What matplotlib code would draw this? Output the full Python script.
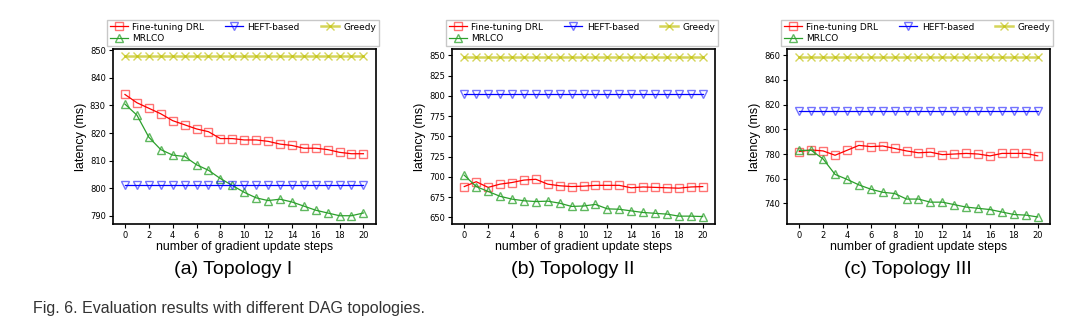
import matplotlib.pyplot as plt

# gradient update steps
steps = list(range(21))

# (a) Topology I
ft_a = [834, 831, 829, 827, 824.5, 823, 821.5, 820.5, 818, 818, 817.5,
        817.5, 817, 816, 815.5, 814.5, 814.5, 814, 813, 812.5, 812.5]
mrlco_a = [830.5, 826.5, 818.5, 814, 812, 811.5, 808.5, 806.5, 803.5, 801, 798.5,
           796.5, 795.5, 796, 795, 793.5, 792, 791, 790, 790, 791]
heft_a = [801] * 21
greedy_a = [848] * 21

# (b) Topology II
ft_b = [688, 694, 687, 691, 693, 696, 697, 691, 689, 688, 688.5,
        689.5, 689.5, 689.5, 686.5, 687.5, 687, 686.5, 686, 687.5, 688]
mrlco_b = [702, 688, 682, 676, 672.5, 670.5, 669.5, 670, 667.5, 663.5, 664,
           666, 660.5, 660, 658, 656, 655, 654, 651.5, 651.5, 651]
heft_b = [802.5] * 21
greedy_b = [848.5] * 21

# (c) Topology III
ft_c = [782, 783.3, 782.5, 779, 783, 787, 786, 786.5, 784.5, 782.5, 781,
        781.5, 779.5, 780, 780.5, 780, 778.5, 780.5, 780.5, 780.5, 778.5]
mrlco_c = [783, 783, 776, 763.5, 759.5, 755, 751.5, 749, 748, 743.5, 743.5,
           741, 741, 739, 737, 736, 735, 733, 731, 730.5, 729]
heft_c = [814.8] * 21
greedy_c = [859] * 21

panels = [
    (ft_a, mrlco_a, heft_a, greedy_a, (787, 850.5), range(790, 851, 10), '(a) Topology I'),
    (ft_b, mrlco_b, heft_b, greedy_b, (641.8, 857.8), range(650, 851, 25), '(b) Topology II'),
    (ft_c, mrlco_c, heft_c, greedy_c, (723.3, 865.1), range(740, 861, 20), '(c) Topology III'),
]

W, H = 1070, 323
fig = plt.figure(figsize=(W / 100, H / 100), dpi=100)
lefts = [112.7, 452, 787]
aw, top, bot = 263, 49, 224

for left, (ft, mr, heft, gr, ylim, yticks, cap) in zip(lefts, panels):
    ax = fig.add_axes([left / W, 1 - bot / H, aw / W, (bot - top) / H])
    ms = 5.8
    ax.plot(steps, ft, color='red', lw=0.9, marker='s', ms=ms, mfc='none',
            mec=(1, 0, 0, 0.55), label='Fine-tuning DRL')
    ax.plot(steps, mr, color='#2ca02c', lw=0.9, marker='^', ms=ms, mfc='none',
            mec=(0.17, 0.63, 0.17, 0.75), label='MRLCO')
    ax.plot(steps, heft, color='blue', lw=0.9, marker='v', ms=ms, mfc='none',
            mec=(0, 0, 1, 0.55), label='HEFT-based')
    ax.plot(steps, gr, color='#bfbf00', lw=1.8, alpha=0.65, marker='x', ms=ms,
            label='Greedy')
    ax.set_xlim(-1.03, 21.03)
    ax.set_ylim(*ylim)
    ax.set_xticks(range(0, 21, 2))
    ax.set_yticks(list(yticks))
    ax.tick_params(labelsize=6, length=3, pad=2)
    ax.set_xlabel('number of gradient update steps', fontsize=8.8,
                  family='Liberation Sans', labelpad=1)
    ax.set_ylabel('latency (ms)', fontsize=9, family='Liberation Sans', labelpad=2)
    for sp in ax.spines.values():
        sp.set_linewidth(1.2)
    ax.legend(ncol=3, loc='lower left', mode='expand',
              bbox_to_anchor=(-0.022, 1.017, 1.034, 0.15), fontsize=6.5,
              frameon=True, fancybox=False, edgecolor='#bbbbbb',
              borderaxespad=0, handlelength=2.0, handletextpad=0.5,
              borderpad=0.3, labelspacing=0.3, markerscale=0.9)
    fig.text((left + aw / 2 - 11) / W, 1 - 270 / H, cap, ha='center', va='center',
             fontsize=14, family='Liberation Sans')

fig.text(33 / W, 1 - 308 / H, 'Fig. 6. Evaluation results with different DAG topologies.',
         ha='left', va='center', fontsize=11.5, family='Liberation Sans', color='#333333')

fig.savefig('out.png', dpi=100)
